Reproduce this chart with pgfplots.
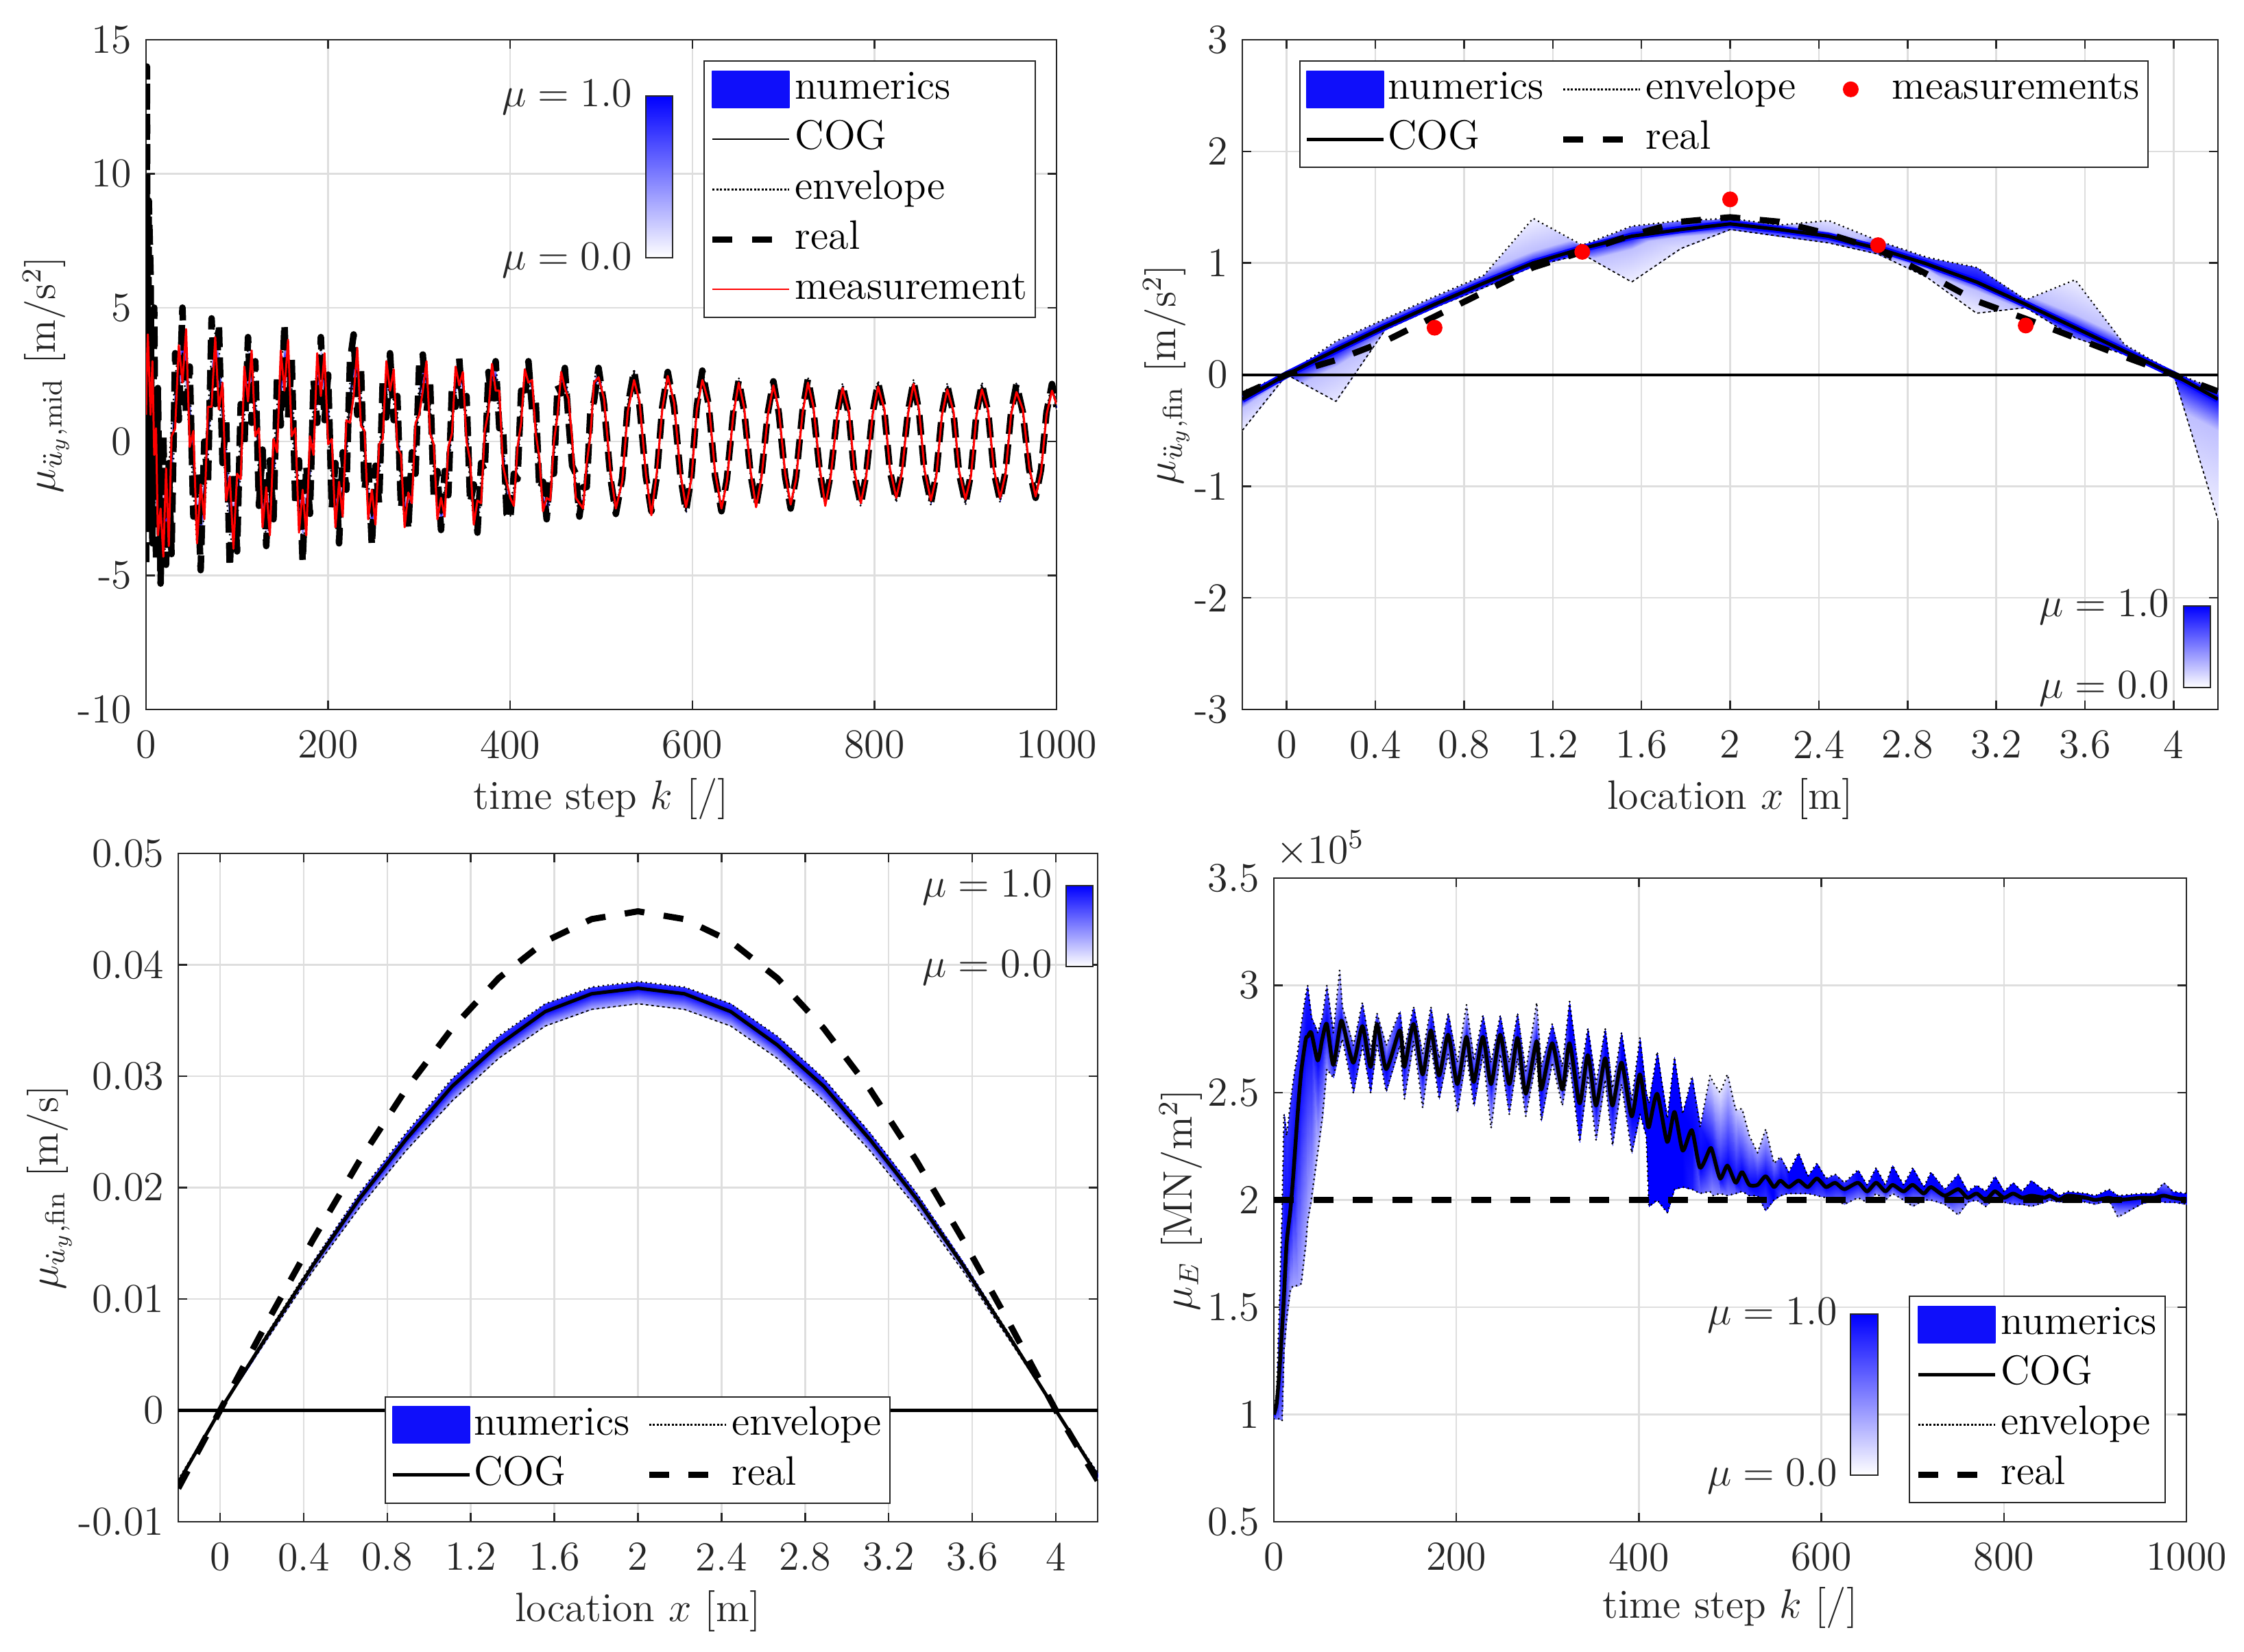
\documentclass[12pt,border=0pt]{standalone}
\usepackage{pgfplots}
\usepackage{pgfplotstable}
\pgfplotsset{compat=1.18}

\definecolor{axc}{rgb}{.15,.15,.15}
\definecolor{fzblue}{rgb}{0,0,1}
\definecolor{lgblue}{rgb}{.06,.06,.98}

% k real meas low cog up
\pgfplotstableread{
k real meas low cog up
0 -4.5 1 0 .5 1
1 14 3 .5 2.5 4
2 -3 4 1 2.5 4.5
3 9 3 .5 2.2 4
5 6.2 1 -.8 1 3
7 -3.8 3 -1 .5 3.5
9 5 -.5 -2 -.5 1.5
11 -4.5 .5 -2.8 -1.5 .2
13 2 -3.5 -3.4 -2.2 -.8
16 -5.3 -2.5 -4 -3 -1.6
19 .2 -4.3 -4.2 -3 -1.8
22 -4.6 -1 -3.9 -2.8 -1.8
25 -.8 -3.9 -3.2 -2 -1
28 -4.2 .2 -2.2 -.8 .6
32 3.3 .5 .6 1.5 2.4
36 .8 3.6 1.7 2.6 3.5
40 5 2.2 2.4 3.3 4.2
44 1 4.2 1.9 2.8 3.7
48 2.8 -.2 .1 1 1.9
52 -2.8 .4 -1.9 -1 -.1
56 -1.1 -3.8 -3.8 -2.9 -2
60 -4.8 -1.6 -3.9 -3 -2.1
64 0 -2.9 -2.7 -1.8 -.9
68 -1.6 1.3 -.7 .2 1.1
72 4.6 1.3 1.5 2.4 3.3
76 1.4 3.9 2.3 3.2 4.1
80 4.4 1.2 1.7 2.6 3.5
84 -.8 2.2 .1 1 1.9
88 .8 -2.2 -1.9 -1 -.1
92 -4.7 -1.3 -3.5 -2.6 -1.7
96 -1.2 -4 -3.9 -3 -2.1
100 -4.1 -1.2 -3.1 -2.3 -1.5
104 1.4 -1.4 -1.1 -.4 .3
108 -.2 2.8 .9 1.6 2.3
112 3.9 1.5 2.1 2.8 3.5
116 .7 3.4 1.8 2.5 3.2
120 3 .2 .5 1.2 1.9
124 -2.4 .5 -1.3 -.6 .1
128 -.3 -3.2 -2.8 -2.1 -1.4
132 -3.9 -1.7 -3.5 -2.8 -2.1
136 -.7 -3.5 -3.2 -2.5 -1.8
140 -2.9 .1 -1.8 -1.1 -.4
144 2.5 -.4 0 .7 1.4
148 .6 3.4 1.5 2.2 2.9
152 4.4 1.9 2.4 3.1 3.8
156 .9 3.8 2 2.7 3.4
160 3.1 .2 .6 1.3 2
164 -2.4 .5 -1.3 -.6 .1
168 -.7 -3.4 -3 -2.3 -1.6
172 -4.5 -1.8 -3.7 -3 -2.3
176 -.9 -3.5 -3.1 -2.4 -1.7
180 -2.7 .2 -1.7 -1 -.3
184 2.3 -.5 0 .7 1.4
188 .7 3.3 1.5 2.2 2.9
192 3.9 1.7 2.1 2.8 3.5
196 .8 3.3 1.6 2.3 3
200 2.5 -.1 .2 .9 1.6
204 -2.5 .1 -1.5 -.9 -.3
208 -.8 -3.2 -2.9 -2.3 -1.7
212 -3.8 -1.5 -3.2 -2.6 -2
216 -.4 -2.8 -2.4 -1.8 -1.2
220 -1.8 .8 -.8 -.2 .4
224 3 .7 1 1.6 2.2
228 4 1.7 2.3 2.8 3.3
232 1 3.5 2.1 2.6 3.1
236 2.8 .6 .9 1.4 1.9
240 -1.8 .4 -.9 -.4 .1
244 -.7 -2.9 -2.6 -2.1 -1.6
248 -3.9 -1.8 -3.3 -2.8 -2.3
252 -.9 -3.1 -2.8 -2.3 -1.8
256 -2.3 -.1 -1.4 -.9 -.4
260 2.3 .1 .4 .9 1.4
264 .9 3 1.7 2.2 2.7
268 3.3 1.9 2.1 2.6 3.1
272 .8 2.7 1.5 2 2.5
276 1.7 -.2 0 .5 1
280 -2.5 -.5 -1.8 -1.3 -.8
284 -1.3 -3.2 -3 -2.5 -2
288 -3.3 -1.9 -3.1 -2.6 -2.1
292 -.4 -2.3 -2.1 -1.6 -1.1
296 -1.2 .7 -.5 0 .5
300 2.9 1 1.3 1.7 2.1
304 3.25 1.9 2.1 2.5 2.9
308 1.1 3 1.9 2.3 2.7
312 2.2 .3 .6 1 1.4
316 -2 -.1 -1.2 -.8 -.4
320 -1.1 -2.9 -2.6 -2.2 -1.8
324 -3.3 -2.1 -3.1 -2.7 -2.3
328 -1.1 -2.8 -2.6 -2.2 -1.8
332 -2 -.2 -1.3 -.9 -.5
336 2 .3 .5 .9 1.3
340 1.3 2.8 1.8 2.2 2.6
344 3.1 2.1 2.2 2.6 3
348 1.1 2.6 1.7 2.1 2.5
352 1.7 0 .2 .6 1
356 -2.3 -.7 -1.7 -1.3 -.9
360 -1.6 -3.1 -3 -2.6 -2.2
364 -3.4 -2.2 -3.1 -2.7 -2.3
368 -.8 -2.3 -2.2 -1.8 -1.4
372 -1.1 .4 -.5 -.1 .3
376 2.6 1.1 1.2 1.6 2
380 1.5 2.9 2 2.4 2.8
384 3 1.9 2 2.4 2.8
388 .5 1.9 1 1.4 1.8
392 .6 -.9 -.8 -.4 0
396 -2.7 -1.5 -2.4 -2 -1.6
400 -2.9 -2.1 -2.8 -2.5 -2.2
404 -1.2 -2.4 -2.3 -2 -1.7
408 -1.4 -.2 -.9 -.6 -.3
412 1.9 .7 .8 1.1 1.4
416 1.6 2.7 2 2.3 2.6
420 3 2.2 2.3 2.6 2.9
424 1.2 2.3 1.7 2 2.3
428 1.5 .3 .4 .7 1
432 -1.8 -.6 -1.3 -1 -.7
436 -1.5 -2.6 -2.5 -2.2 -1.9
440 -2.9 -2.1 -2.8 -2.5 -2.2
444 -1.2 -2.2 -2.2 -1.9 -1.6
448 -1.2 0 -.7 -.4 -.1
452 2.1 1 1 1.3 1.6
456 1.8 2.6 2 2.3 2.6
460 2.75 2 2 2.3 2.6
464 .8 1.6 1.1 1.4 1.7
468 -.9 .1 -.5 -.2 .1
472 -1.2 -2.1 -2.1 -1.8 -1.5
476 -2.8 -2.3 -2.8 -2.5 -2.2
480 -1.7 -2.5 -2.6 -2.3 -2
484 -1.7 -.8 -1.4 -1.1 -.8
488 1.1 .2 .2 .5 .8
492 1.5 2.2 1.7 2 2.3
497 2.75 2.4 2.3 2.55 2.85
503 1.39 1.6 1.25 1.38 1.5
510 -1.34 -1.1 -1.45 -1.32 -1.2
516 -2.7 -2.5 -2.8 -2.66 -2.55
523 -1.36 -1.5 -1.46 -1.34 -1.24
529 1.31 1.1 1.2 1.3 1.4
536 2.65 2.3 2.53 2.6 2.72
542 1.34 1.5 1.24 1.32 1.44
549 -1.31 -1.2 -1.4 -1.29 -1.2
555 -2.6 -2.75 -2.68 -2.56 -2.48
561 -1.3 -1.15 -1.4 -1.28 -1.18
567 1.3 1.2 1.2 1.28 1.4
573 2.6 2.45 2.5 2.56 2.68
580 1.3 1.45 1.2 1.28 1.4
587 -1.3 -1.2 -1.4 -1.28 -1.18
593 -2.6 -2.45 -2.68 -2.56 -2.48
599 -1.29 -1.4 -1.38 -1.27 -1.18
605 1.34 1.2 1.24 1.32 1.44
611 2.65 2.3 2.55 2.6 2.72
618 1.34 1.45 1.24 1.32 1.44
625 -1.29 -1.15 -1.38 -1.27 -1.18
632 -2.6 -2.5 -2.67 -2.56 -2.48
638 -1.38 -1.5 -1.47 -1.36 -1.26
645 1.08 1.0 .98 1.06 1.18
651 2.3 2.2 2.2 2.26 2.38
657 1.13 1.25 1.03 1.11 1.23
664 -1.23 -1.1 -1.33 -1.21 -1.11
670 -2.4 -2.45 -2.48 -2.36 -2.28
676 -1.24 -1.35 -1.34 -1.22 -1.12
683 1.09 1 .99 1.07 1.19
689 2.25 2.1 2.15 2.2 2.32
695 1.06 1.2 .96 1.04 1.16
702 -1.31 -1.2 -1.41 -1.29 -1.19
708 -2.5 -2.35 -2.58 -2.46 -2.38
714 -1.29 -1.4 -1.39 -1.27 -1.17
721 1.14 1.05 1.04 1.12 1.24
727 2.35 2.2 2.25 2.3 2.42
733 1.19 1.3 1.09 1.17 1.29
740 -1.14 -1 -1.24 -1.12 -1.02
746 -2.3 -2.4 -2.38 -2.26 -2.18
752 -1.2 -1.3 -1.3 -1.18 -1.08
759 1 .9 .9 .98 1.1
765 2.1 2 2 2.06 2.18
772 .99 1.1 .89 .97 1.09
778 -1.24 -1.1 -1.34 -1.22 -1.12
785 -2.35 -2.3 -2.43 -2.31 -2.23
791 -1.21 -1.3 -1.31 -1.19 -1.09
798 1.06 1 .96 1.04 1.16
804 2.2 2.05 2.1 2.16 2.28
811 1.1 1.2 1 1.08 1.2
817 -1.1 -1 -1.2 -1.08 -.98
824 -2.2 -2.1 -2.28 -2.16 -2.08
830 -1.09 -1.2 -1.19 -1.07 -.97
837 1.14 1.05 1.04 1.12 1.24
843 2.25 2.15 2.15 2.2 2.32
849 1.11 1.2 1.01 1.09 1.21
855 -1.16 -1.05 -1.26 -1.14 -1.04
862 -2.3 -2.2 -2.38 -2.26 -2.18
868 -1.2 -1.3 -1.3 -1.18 -1.08
874 1 .95 .9 .98 1.1
880 2.1 1.95 2 2.06 2.18
887 1 1.1 .9 .98 1.1
893 -1.2 -1.1 -1.3 -1.18 -1.08
900 -2.3 -2.15 -2.38 -2.26 -2.18
906 -1.19 -1.3 -1.29 -1.17 -1.07
912 1.04 .95 .94 1.02 1.14
918 2.15 1.95 2.05 2.1 2.22
925 1.06 1.15 .96 1.04 1.16
931 -1.11 -1 -1.21 -1.09 -.99
938 -2.2 -2.1 -2.28 -2.16 -2.08
944 -1.11 -1.2 -1.21 -1.09 -.99
950 1.06 1 .96 1.04 1.16
956 2.15 1.85 2.05 2.1 2.22
963 1.09 1.2 .99 1.07 1.19
970 -1.04 -.95 -1.14 -1.02 -.92
977 -2.1 -2.05 -2.18 -2.06 -1.98
983 -1.04 -1.15 -1.14 -1.02 -.92
989 1.09 1 .99 1.07 1.19
995 2.15 1.9 2.05 2.1 2.22
1000 1.3 1.4 1.2 1.28 1.4
}\tabmid

% k low cog up real ml mu
\pgfplotstableread{
k low cog up real ml mu
-.2 -.5 -.22 -.15 -.18 .1 .85
0 0 0 0 0 .85 .85
.222 -.24 .22 .3 .13 .2 .85
.444 .4 .43 .5 .3 .85 .85
.667 .6 .63 .7 .52 .85 .85
.889 .78 .82 .89 .74 .85 .85
1.111 .97 1 1.4 .96 .85 .1
1.333 1.08 1.13 1.16 1.1 .85 .85
1.556 .83 1.24 1.33 1.25 .1 .85
1.778 1.13 1.3 1.38 1.37 .3 .85
2 1.3 1.35 1.4 1.41 .85 .85
2.222 1.24 1.3 1.34 1.37 .85 .85
2.444 1.18 1.24 1.38 1.26 .85 .3
2.667 1.08 1.13 1.2 1.12 .85 .85
2.889 .87 .99 1.05 .9 .4 .92
3.111 .55 .83 .96 .66 .1 .92
3.333 .6 .63 .67 .5 .85 .85
3.556 .33 .42 .85 .33 .85 .1
3.778 .18 .21 .27 .16 .85 .85
4 0 0 .02 0 .85 .85
4.2 -1.3 -.22 -.14 -.15 .05 .85
}\tabfin

\pgfplotstableread{
k low cog up real
-.2 -.0067 -.0065 -.0062 -.0070
0 0 0 0 0
.222 .0063 .0066 .0068 .0078
.444 .0125 .0130 .0133 .0153
.667 .0182 .0190 .0195 .0224
.889 .0233 .0243 .0249 .0288
1.111 .0278 .0291 .0298 .0343
1.333 .0316 .0328 .0336 .0388
1.556 .0345 .0358 .0365 .0421
1.778 .0360 .0374 .0380 .0441
2 .0365 .0379 .0385 .0448
2.222 .0360 .0374 .0380 .0441
2.444 .0345 .0358 .0365 .0421
2.667 .0316 .0328 .0336 .0388
2.889 .0278 .0291 .0298 .0343
3.111 .0233 .0243 .0249 .0288
3.333 .0182 .0190 .0195 .0224
3.556 .0125 .0130 .0133 .0153
3.778 .0063 .0066 .0068 .0078
4 0 0 0 0
4.2 -.0061 -.0059 -.0056 -.0063
}\tabvel

% k low cog up ml mu  (ml, mu: membership at the envelope)
\pgfplotstableread{
k low cog up ml mu
0 .98 1 1.02 .5 .5
3 .98 1.05 1.1 .5 .8
6 .98 1.2 1.5 .5 .8
9 .97 1.4 1.95 .5 .8
11 1.3 1.55 2.4 .5 .8
14 1.45 1.8 2.3 .45 .8
18 1.58 1.95 2.45 .35 .8
21 1.6 2.1 2.55 .35 .8
26 1.6 2.4 2.69 .35 .8
30 1.61 2.6 2.82 .3 .8
35 1.8 2.75 2.96 .3 .9
37 1.9 2.76 3 .3 .9
41 2 2.78 2.85 .3 .9
48 2.22 2.65 2.78 .2 .9
53 2.38 2.75 2.85 .3 .8
58 2.61 2.82 3 .4 .7
65 2.57 2.63 2.78 .7 .7
72 2.7 2.8 3.07 .5 .2
75 2.75 2.83 2.9 .5 .3
87 2.5 2.64 2.72 .8 .6
97 2.72 2.81 2.92 .7 .8
106 2.5 2.62 2.7 .9 .5
113 2.73 2.82 2.87 .6 .6
123 2.505 2.61 2.72 .8 .4
138 2.72 2.79 2.88 .6 .8
143 2.47 2.62 2.7 .6 .5
153 2.74 2.82 2.9 .5 .9
163 2.43 2.585 2.68 .4 .4
172 2.72 2.79 2.9 .5 .8
181 2.47 2.58 2.66 .8 .5
191 2.68 2.77 2.87 .5 .9
201 2.41 2.54 2.64 .6 .4
211 2.68 2.76 2.91 .5 .2
219 2.44 2.55 2.65 .8 .6
229 2.68 2.76 2.86 .6 .9
238 2.335 2.54 2.64 .2 .6
248 2.68 2.77 2.86 .5 .9
258 2.4 2.54 2.64 .7 .5
267 2.66 2.755 2.87 .5 .9
276 2.39 2.495 2.6 .4 .5
288 2.66 2.74 2.92 .5 .15
293 2.37 2.515 2.62 .8 .6
305 2.64 2.73 2.82 .5 .9
316 2.44 2.515 2.62 .3 .5
324 2.64 2.73 2.925 .5 1
335 2.27 2.45 2.56 .9 .6
344 2.58 2.675 2.8 .5 1
353 2.28 2.44 2.54 .5 .5
363 2.56 2.66 2.8 .5 1
371 2.255 2.44 2.52 .6 .4
381 2.54 2.64 2.78 .5 1
392 2.22 2.39 2.46 .7 .7
401 2.4 2.585 2.755 1 1
408 2.3 2.4 2.5 1 1
411 1.97 2.34 2.45 1 1
420 2 2.495 2.69 1 1
431 1.94 2.27 2.38 1 1
439 2.05 2.41 2.665 1 1
448 2.06 2.23 2.4 1 1
458 2.05 2.325 2.575 .9 .9
467 2.03 2.15 2.34 .6 .9
478 2.04 2.24 2.58 .5 .1
481 2.02 2.22 2.55 .4 .1
489 2.03 2.1 2.5 .5 .1
497 2.02 2.16 2.585 .5 .1
506 2.03 2.08 2.42 .6 .2
513 2.04 2.13 2.425 .8 .1
521 2.02 2.07 2.3 .8 .3
530 2.02 2.07 2.22 .9 .4
539 1.95 2.11 2.33 .7 .2
548 2 2.06 2.17 1 .5
555 2.02 2.09 2.2 .7 .7
564 2.03 2.06 2.13 .8 1
575 2.03 2.09 2.22 .7 1
585 2.03 2.06 2.11 .8 1
595 2.02 2.1 2.17 .7 1
605 2.01 2.06 2.1 .7 .9
615 2 2.08 2.12 .6 .8
625 1.98 2.05 2.08 .5 .8
640 2.01 2.08 2.14 .5 1
650 1.99 2.04 2.07 .4 .9
660 2.03 2.08 2.15 .5 1
670 2 2.04 2.07 .3 .9
678 2.03 2.07 2.16 .4 1
690 2 2.04 2.07 .4 1
700 1.97 2.07 2.15 .3 1
712 2 2.03 2.06 .5 1
720 2 2.06 2.13 .5 1
735 1.98 2.02 2.05 .5 .9
750 1.93 2.05 2.12 .3 1
760 1.99 2.01 2.04 .6 1
770 2 2.03 2.07 .6 1
780 1.97 2 2.04 .5 1
790 2.01 2.04 2.11 .6 1
800 1.99 2.01 2.04 .7 1
810 1.98 2.03 2.08 .6 1
820 1.98 2.01 2.04 .7 1
830 1.97 2.02 2.09 .5 1
845 1.99 2.01 2.04 .7 1
850 2 2.02 2.06 .7 1
860 1.99 2 2.02 .8 1
870 2 2.02 2.04 .8 1
890 1.99 2.01 2.03 .8 1
900 1.98 2 2.02 .6 1
915 2 2.01 2.05 .8 1
925 1.92 2 2.02 .2 1
950 1.98 2.01 2.03 .8 1
965 2 2.01 2.03 .8 1
975 1.99 2.02 2.08 .8 .5
985 1.99 2.01 2.04 .8 1
1000 1.98 2 2.03 .8 1
}\tabE

\pgfplotstablecreatecol[create col/set={0}]{ml}\tabmid
\pgfplotstablecreatecol[create col/set={0}]{mu}\tabmid
\pgfplotstablecreatecol[create col/set={.25}]{ml}\tabvel
\pgfplotstablecreatecol[create col/set={.8}]{mu}\tabvel

% three mesh rows per k: lower envelope, COG (mu=1), upper envelope
\newcommand\fuzzyband[1]{%
  \gdef\meshdata{}%
  \pgfplotstablegetrowsof{#1}%
  \pgfmathtruncatemacro\lastrow{\pgfplotsretval-1}%
  \pgfplotsforeachungrouped \r in {0,...,\lastrow}{%
    \pgfplotstablegetelem{\r}{k}\of{#1}\let\vk\pgfplotsretval
    \pgfplotstablegetelem{\r}{low}\of{#1}\let\vlo\pgfplotsretval
    \pgfplotstablegetelem{\r}{cog}\of{#1}\let\vco\pgfplotsretval
    \pgfplotstablegetelem{\r}{up}\of{#1}\let\vup\pgfplotsretval
    \pgfplotstablegetelem{\r}{ml}\of{#1}\let\vml\pgfplotsretval
    \pgfplotstablegetelem{\r}{mu}\of{#1}\let\vmu\pgfplotsretval
    \xdef\meshdata{\meshdata (\vk,\vlo) [\vml] (\vk,\vco) [1] (\vk,\vup) [\vmu] }%
  }%
  \edef\tmpplot{\noexpand\addplot[surf,shader=interp,forget plot,mesh/ordering=y varies,mesh/rows=3,point meta=explicit] coordinates {\meshdata};}%
  \tmpplot
}

\pgfplotsset{
  fzaxis/.style={
    scale only axis, anchor=south west,
    axis line style={axc,line width=.5pt},
    tick style={axc,line width=.5pt},
    tick align=inside, major tick length=2.6pt,
    grid=major, grid style={black!13,line width=.5pt},
    point meta min=0, point meta max=1,
    scaled y ticks=false,
    colormap={fz}{rgb=(.97,.97,1) rgb=(0,0,1)},
    xlabel style={at={(axis description cs:.5,-.134)},anchor=center},
    tick label style={text=axc},
    xticklabel style={yshift=-2pt},
    label style={text=axc},
    legend cell align=left,
    every axis plot/.append style={line join=round},
    legend style={draw=axc,line width=.4pt,fill=white,inner xsep=1.6pt,inner ysep=2.7pt,
      nodes={text height=8.4pt,text depth=2.6pt,inner xsep=.8pt,inner ysep=0pt},
      row sep=3.6pt,
      /tikz/every even column/.append style={column sep=4pt}},
  },
  lgnum/.style={legend image code/.code={\fill[lgblue] (0pt,-5.3pt) rectangle (22.4pt,5.3pt);}},
  lgcog/.style={legend image code/.code={\draw[black,line width=#1] (0pt,0pt) -- (22.4pt,0pt);}},
  lgenv/.style={legend image code/.code={\draw[black,line width=.6pt,dash pattern=on .6pt off .5pt] (0pt,0pt) -- (22.4pt,0pt);}},
  lgreal/.style={legend image code/.code={\draw[black,line width=1.8pt,dash pattern=on 5.8pt off 5.7pt] (0pt,0pt) -- (22.4pt,0pt);}},
  lgmeas/.style={legend image code/.code={\draw[red,line width=.4pt] (0pt,0pt) -- (22.4pt,0pt);}},
  lgdot/.style={legend image code/.code={\path[draw=none] (0pt,0pt) -- (22.4pt,0pt);\fill[red] (11.2pt,0pt) circle (2.1pt);}},
  envline/.style={black,line width=#1,line cap=round,dash pattern=on 0pt off 1.4pt},
  realline/.style={black,line width=1.8pt,line join=round,dash pattern=on 5.8pt off 5.7pt},
}

% colour key in page pixels: left, right, top, bottom, right edge of the text, text y top, y bottom
\newcommand\fzkey[7]{%
  \shade[top color=fzblue,bottom color=white] (#1,#3) rectangle (#2,#4);
  \draw[axc,line width=.4pt] (#1,#3) rectangle (#2,#4);
  \node[anchor=east,text=axc,inner sep=0pt] at (#5+2,#6+4) {$\mu = 1.0$};
  \node[anchor=east,text=axc,inner sep=0pt] at (#5+2,#7+4) {$\mu = 0.0$};
}

\begin{document}
\begin{tikzpicture}
\path[use as bounding box] (0pt,0pt) rectangle (654.6pt,481.8pt);

% acceleration at midspan
\begin{axis}[fzaxis,at={(42.6pt,274.8pt)},width=265.6pt,height=195.4pt,
  xmin=0,xmax=1000,ymin=-10,ymax=15,
  xtick={0,200,400,600,800,1000},xticklabels={0,200,400,600,800,1000},
  ytick={-10,-5,0,5,10,15},yticklabels={-10,-5,0,5,10,15},
  xlabel={time step $k$ [/]},
  ylabel={$\mu_{\ddot{u}_y,\mathrm{mid}}$ [m/s$^2$]},
  ylabel style={at={(axis description cs:-.11,.5)},anchor=center},
  legend style={at={(.612,.969)},anchor=north west}]
\addlegendimage{lgnum}
\addlegendimage{lgcog=.4pt}
\addlegendimage{lgenv}
\addlegendimage{lgreal}
\addlegendimage{lgmeas}
\fuzzyband{\tabmid}
\addplot[envline=.6pt,forget plot] table[x=k,y=low] {\tabmid};
\addplot[envline=.6pt,forget plot] table[x=k,y=up] {\tabmid};
\addplot[black,line width=.4pt,forget plot] table[x=k,y=cog] {\tabmid};
\addplot[black,line width=1.9pt,line join=round,dash pattern=on 5.8pt off 3pt,forget plot] table[x=k,y=real] {\tabmid};
\addplot[red,line width=.6pt,forget plot] table[x=k,y=meas] {\tabmid};
\legend{numerics,COG,envelope,real,measurement}
\end{axis}

% acceleration along the beam
\begin{axis}[fzaxis,at={(362.4pt,274.8pt)},width=284.6pt,height=195.4pt,
  xmin=-.2,xmax=4.2,ymin=-3,ymax=3,
  colormap={fzp}{rgb(0cm)=(.96,.96,1) rgb(7.5cm)=(.75,.75,1) rgb(10cm)=(0,0,1)},
  xtick={0,.4,.8,1.2,1.6,2,2.4,2.8,3.2,3.6,4},
  xticklabels={0,0.4,0.8,1.2,1.6,2,2.4,2.8,3.2,3.6,4},
  ytick={-3,-2,-1,0,1,2,3},yticklabels={-3,-2,-1,0,1,2,3},
  xlabel={location $x$ [m]},
  ylabel={$\mu_{\ddot{u}_y,\mathrm{fin}}$ [m/s$^2$]},
  ylabel style={at={(axis description cs:-.078,.5)},anchor=center},
  legend columns=3,
  legend style={at={(.058,.969)},anchor=north west}]
\addlegendimage{lgnum}
\addlegendimage{lgenv}
\addlegendimage{lgdot}
\addlegendimage{lgcog=1pt}
\addlegendimage{lgreal}
\fuzzyband{\tabfin}
\addplot[black,line width=.8pt,forget plot] coordinates {(-.2,0) (4.2,0)};
\addplot[black,line width=.35pt,dash pattern=on .8pt off .8pt,forget plot] table[x=k,y=low] {\tabfin};
\addplot[envline=.6pt,forget plot] table[x=k,y=up] {\tabfin};
\addplot[fzblue,line width=2.1pt,forget plot] table[x=k,y=cog] {\tabfin};
\addplot[black,line width=1pt,forget plot] table[x=k,y=cog] {\tabfin};
\addplot[realline,forget plot] table[x=k,y=real] {\tabfin};
\addplot[only marks,mark=*,mark size=2.1pt,red,forget plot] coordinates {(.667,.42) (1.333,1.1) (2,1.57) (2.667,1.16) (3.333,.44)};
\legend{numerics,envelope,measurements,COG,real}
\end{axis}

% velocity along the beam
\begin{axis}[fzaxis,at={(52pt,37.8pt)},width=268.2pt,height=195pt,
  xmin=-.2,xmax=4.2,ymin=-.01,ymax=.05,
  xtick={0,.4,.8,1.2,1.6,2,2.4,2.8,3.2,3.6,4},
  xticklabels={0,0.4,0.8,1.2,1.6,2,2.4,2.8,3.2,3.6,4},
  ytick={-.01,0,.01,.02,.03,.04,.05},
  yticklabels={-0.01,0,0.01,0.02,0.03,0.04,0.05},
  xlabel={location $x$ [m]},
  ylabel={$\mu_{\dot{u}_y,\mathrm{fin}}$ [m/s]},
  ylabel style={at={(axis description cs:-.14,.5)},anchor=center},
  legend columns=2,
  legend style={at={(.2245,.188)},anchor=north west}]
\addlegendimage{lgnum}
\addlegendimage{lgenv}
\addlegendimage{lgcog=1pt}
\addlegendimage{lgreal}
\fuzzyband{\tabvel}
\addplot[black,line width=1pt,forget plot] coordinates {(-.2,0) (4.2,0)};
\addplot[black,line width=.35pt,dash pattern=on .8pt off .8pt,forget plot] table[x=k,y=low] {\tabvel};
\addplot[envline=.6pt,forget plot] table[x=k,y=up] {\tabvel};
\addplot[black,line width=1pt,forget plot] table[x=k,y=cog] {\tabvel};
\addplot[realline,forget plot] table[x=k,y=real] {\tabvel};
\legend{numerics,envelope,COG,real}
\end{axis}

% Young's modulus
\begin{axis}[fzaxis,at={(371.6pt,37.8pt)},width=266.2pt,height=187.8pt,
  xmin=0,xmax=1000,ymin=.5,ymax=3.5,
  xtick={0,200,400,600,800,1000},xticklabels={0,200,400,600,800,1000},
  ytick={.5,1,1.5,2,2.5,3,3.5},yticklabels={0.5,1,1.5,2,2.5,3,3.5},
  xlabel={time step $k$ [/]},
  ylabel={$\mu_{E}$ [MN/m$^2$]},
  ylabel style={at={(axis description cs:-.102,.5)},anchor=center},
  legend style={at={(.696,.351)},anchor=north west}]
\addlegendimage{lgnum}
\addlegendimage{lgcog=1pt}
\addlegendimage{lgenv}
\addlegendimage{lgreal}
\fuzzyband{\tabE}
\addplot[envline=.6pt,forget plot] table[x=k,y=low] {\tabE};
\addplot[envline=.6pt,forget plot] table[x=k,y=up] {\tabE};
\addplot[realline,forget plot] coordinates {(0,2) (1000,2)};
\addplot[black,line width=1.1pt,smooth,tension=.4,forget plot] table[x=k,y=cog] {\tabE};
\legend{numerics,COG,envelope,real}
\end{axis}

\begin{scope}[shift={(0pt,481.8pt)},x=.2pt,y=-.2pt]
\fzkey{942}{981}{140}{376}{921}{138}{376}
\fzkey{3185}{3224}{884}{1003}{3163}{882}{1001}
\fzkey{1555}{1594}{1292}{1410}{1534}{1291}{1408}
\fzkey{2699}{2739}{1917}{2152}{2679}{1915}{2150}
\node[anchor=west,text=axc,inner sep=0pt] at (1860,1238) {$\times 10^5$};
\end{scope}
\end{tikzpicture}
\end{document}
